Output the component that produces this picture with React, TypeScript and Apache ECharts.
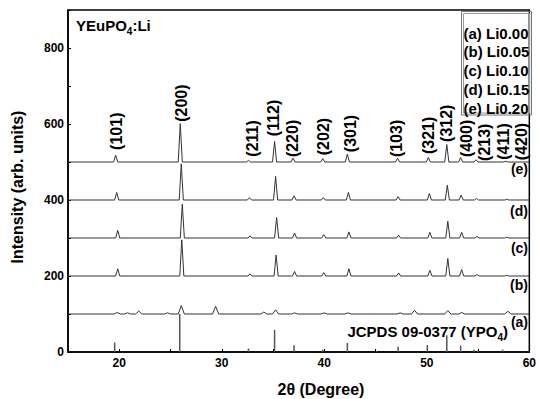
import { useEffect, useRef } from 'react';
import * as echarts from 'echarts';

// ---------- data ----------
const sampleNames = ['(a) Li0.00', '(b) Li0.05', '(c) Li0.10', '(d) Li0.15', '(e) Li0.20'];
const sampleTags = ['(a)', '(b)', '(c)', '(d)', '(e)'];
const sampleOffsets = [100, 200, 300, 400, 500];

// [2θ, peak height above baseline]
const peaksA = [[19.8, 4], [20.8, 3], [21.9, 8], [24.7, 3], [26.05, 22], [29.4, 20], [34.1, 5], [35.25, 11], [37.1, 3], [40.0, 3], [42.3, 3], [47.4, 3], [48.8, 10], [52.05, 9], [53.4, 4], [57.9, 7]];
const peaksB = [[19.85, 19], [26.1, 95], [32.75, 6], [35.3, 55], [37.1, 12], [39.95, 9], [42.4, 19], [47.25, 8], [50.3, 15], [52.05, 46], [53.4, 17], [54.9, 4], [57.8, 2]];
const peaksC = [[19.85, 20], [26.15, 89], [32.75, 6], [35.35, 54], [37.1, 13], [39.95, 9], [42.4, 16], [47.25, 7], [50.3, 15], [52.05, 44], [53.4, 15], [54.9, 4], [57.8, 2]];
const peaksD = [[19.75, 20], [26.05, 95], [32.7, 6], [35.25, 62], [37.05, 11], [39.9, 6], [42.35, 20], [47.2, 9], [50.25, 17], [52.0, 39], [53.35, 13], [54.85, 4], [57.8, 2]];
const peaksE = [[19.65, 18], [25.95, 101], [32.6, 4], [35.15, 54], [36.95, 10], [39.85, 9], [42.25, 21], [47.15, 10], [50.15, 12], [51.95, 46], [53.3, 12], [54.8, 6], [57.7, 2]];

// JCPDS 09-0377 reference lines
const refPos = [19.55, 25.9, 32.6, 35.15, 37.05, 39.85, 42.25, 45.1, 47.2, 50.05, 51.95, 53.3, 54.6, 55.0, 57.4];
const refInt = [25, 100, 9, 58, 18, 6, 24, 3, 14, 18, 44, 17, 6, 3, 6];

// Miller index labels (2θ, intensity at the label centre)
const hklText = ['(101)', '(200)', '(211)', '(112)', '(220)', '(202)', '(301)', '(103)', '(321)', '(312)', '(400)', '(213)', '(411)', '(420)'];
const hklX = [19.7, 26.05, 33.0, 35.04, 36.9, 39.9, 42.6, 47.07, 50.14, 51.9, 53.9, 55.6, 57.5, 59.2];
const hklY = [581, 655, 562, 616, 562, 567, 575, 562, 570, 602, 562, 552, 554, 554];

const xTicks = [20, 30, 40, 50, 60];
const yTicks = [0, 200, 400, 600, 800];

const FONT = '"Liberation Sans", Arial, sans-serif';

function buildCurve(peaks: number[][], base: number, halfWidth: number) {
  const pts: number[][] = [[15, base]];
  peaks.forEach(([p, h]) => {
    pts.push([p - halfWidth, base], [p, base + h], [p + halfWidth, base]);
  });
  pts.push([60, base]);
  return pts;
}

export default function App() {
  const ref = useRef<HTMLDivElement>(null);
  useEffect(() => {
    if (!ref.current) return;
    const chart = echarts.init(ref.current, undefined, { renderer: 'svg' });
    const allPeaks = [peaksA, peaksB, peaksC, peaksD, peaksE];
    const curveSeries = allPeaks.map((pk, i) => ({
      type: 'line',
      name: sampleNames[i],
      data: buildCurve(pk, sampleOffsets[i], i === 0 ? 0.3 : 0.2),
      showSymbol: false,
      symbol: 'none',
      lineStyle: { color: '#333', width: 1 },
      z: 3,
      silent: true,
    }));
    chart.setOption({
      animation: false,
      grid: { left: 68, right: 6, top: 10, bottom: 47, show: true, borderColor: '#000', borderWidth: 1.5 },
      xAxis: {
        type: 'value', min: 15, max: 60, interval: 5,
        axisLine: { lineStyle: { color: '#000', width: 1.5 } },
        axisTick: { inside: true, length: 3, lineStyle: { color: '#000' } },
        splitLine: { show: false },
        axisLabel: {
          margin: 5, color: '#000', fontSize: 12, fontWeight: 'bold', fontFamily: FONT,
          formatter: (v: number) => (xTicks.includes(v) ? String(v) : ''),
        },
      },
      yAxis: {
        type: 'value', min: 0, max: 900, interval: 100,
        axisLine: { lineStyle: { color: '#000', width: 1.5 } },
        axisTick: { inside: true, length: 3, lineStyle: { color: '#000' } },
        splitLine: { show: false },
        axisLabel: {
          margin: 4, color: '#000', fontSize: 12, fontWeight: 'bold', fontFamily: FONT,
          formatter: (v: number) => (yTicks.includes(v) ? String(v) : ''),
        },
      },
      series: [
        {
          type: 'bar',
          data: refPos.map((p, i) => [p, refInt[i]]),
          barWidth: 1.5,
          itemStyle: { color: '#555' },
          silent: true,
          z: 2,
        },
        ...curveSeries,
      ],
    });

    const tagY = [322, 285, 248, 211, 169];
    const legendText = sampleNames.map((n, i) => ({
      type: 'text',
      x: 463.5,
      y: 33 + i * 18.8,
      style: { text: n, font: `bold 15px ${FONT}`, fill: '#000', align: 'left', verticalAlign: 'middle' },
    }));
    const tagText = sampleTags.map((t, i) => ({
      type: 'text',
      x: 528,
      y: tagY[i],
      style: { text: t, font: `bold 14px ${FONT}`, fill: '#000', align: 'right', verticalAlign: 'middle' },
    }));
    const hklGraphics = hklText.map((t, i) => {
      const [px, py] = chart.convertToPixel({ gridIndex: 0 }, [hklX[i], hklY[i]]) as number[];
      return {
        type: 'text', x: px, y: py, rotation: Math.PI / 2,
        style: { text: t, font: `bold 16px ${FONT}`, fill: '#000', align: 'center', verticalAlign: 'middle' },
      };
    });
    const richSub = {
      a: { fontSize: 15, fontWeight: 'bold', fontFamily: FONT, fill: '#000', lineHeight: 22 },
      s: { fontSize: 10, fontWeight: 'bold', fontFamily: FONT, fill: '#000', lineHeight: 12, verticalAlign: 'bottom' },
    };
    chart.setOption({
      graphic: [
        ...hklGraphics,
        {
          type: 'text', x: 76, y: 25,
          style: { text: '{a|YEuPO}{s|4}{a|:Li}', align: 'left', verticalAlign: 'middle', rich: richSub },
        },
        {
          type: 'text', x: 508, y: 331,
          style: { text: '{a|JCPDS 09-0377 (YPO}{s|4}{a|)}', align: 'right', verticalAlign: 'middle', rich: richSub },
        },
        { type: 'rect', shape: { x: 461.5, y: 11.5, width: 70, height: 103.5 }, style: { fill: 'none', stroke: '#777', lineWidth: 1 } },
        { type: 'rect', shape: { x: 463.5, y: 13.5, width: 66, height: 99.5 }, style: { fill: 'none', stroke: '#999', lineWidth: 1 } },
        ...legendText,
        ...tagText,
        {
          type: 'text', x: 321, y: 389,
          style: { text: '2θ (Degree)', font: `bold 16px ${FONT}`, fill: '#000', align: 'center', verticalAlign: 'middle' },
        },
        {
          type: 'text', x: 17, y: 187, rotation: Math.PI / 2,
          style: { text: 'Intensity (arb. units)', font: `bold 16px ${FONT}`, fill: '#000', align: 'center', verticalAlign: 'middle' },
        },
      ],
    });
    return () => chart.dispose();
  }, []);
  return <div ref={ref} style={{ position: 'fixed', left: 0, top: 0, width: 539, height: 399, background: '#fff' }} />;
}
